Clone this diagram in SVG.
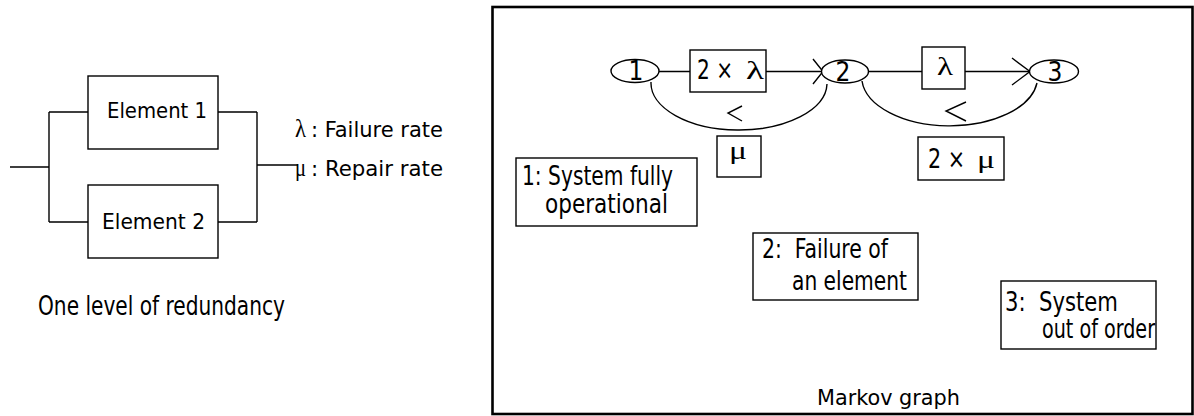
<svg xmlns="http://www.w3.org/2000/svg" width="1194" height="416" viewBox="0 0 1194 416">
  <style>
    .t { font-family: "DejaVu Sans Condensed", "DejaVu Sans", "Liberation Sans", sans-serif; font-stretch: condensed; font-size: 22px; fill: #000; }
    .d { font-size: 26px; }
    .s { font-family: "Liberation Serif", "Times New Roman", serif; font-size: 26px; fill: #000; }
    .ln { fill: none; stroke: #000; stroke-width: 1.4; }
    .bx { fill: #fff; stroke: #000; stroke-width: 1.4; }
    .frame { fill: none; stroke: #000; stroke-width: 2.6; }
  </style>

  <!-- Parallel redundancy block diagram -->
  <g id="wiring">
    <path class="ln" d="M10,167 H49 M49,112 V222 M49,112 H88 M49,222 H88"/>
    <path class="ln" d="M218,112 H257 M218,222 H257 M257,112 V222 M257,165 H298"/>
  </g>
  <g id="element1">
    <rect class="bx" x="88" y="76" width="130" height="73"/>
    <text class="t" x="107" y="118" font-size="24" textLength="100" lengthAdjust="spacingAndGlyphs">Element 1</text>
  </g>
  <g id="element2">
    <rect class="bx" x="88" y="185" width="130" height="73"/>
    <text class="t" x="102" y="229" font-size="24" textLength="103" lengthAdjust="spacingAndGlyphs">Element 2</text>
  </g>
  <g id="legend">
    <text class="s" x="295" y="137" font-size="22" textLength="11" lengthAdjust="spacingAndGlyphs">λ</text>
    <text class="t" x="311" y="137" textLength="132" lengthAdjust="spacingAndGlyphs">: Failure rate</text>
    <text class="s" x="295" y="176" font-size="22" textLength="11" lengthAdjust="spacingAndGlyphs">μ</text>
    <text class="t" x="311" y="176" textLength="132" lengthAdjust="spacingAndGlyphs">: Repair rate</text>
    <text class="t d" x="38" y="315" textLength="247" lengthAdjust="spacingAndGlyphs">One level of redundancy</text>
  </g>

  <!-- Markov graph panel -->
  <rect class="frame" x="492.5" y="7" width="700" height="407"/>

  <g id="connectors">
    <path class="ln" d="M659,71.5 H690 M766,71.5 H822"/>
    <polyline class="ln" points="813,59 823,71.5 813,84"/>
    <path class="ln" d="M868,71.5 H922 M965,71.5 H1029"/>
    <polyline class="ln" points="1012,58 1030,71.5 1012,85"/>
    <path class="ln" d="M651,82 A88,47 0 0 0 827,84"/>
    <polyline class="ln" points="742,106 728,113 742,121"/>
    <path class="ln" d="M862,81 A88,49 0 0 0 1037,83"/>
    <polyline class="ln" points="966,102 946,111 966,121"/>
  </g>

  <g id="state1">
    <ellipse class="bx" cx="635" cy="71" rx="24" ry="11.5"/>
    <text class="t d" x="636" y="80" text-anchor="middle">1</text>
  </g>
  <g id="state2">
    <ellipse class="bx" cx="845" cy="71.5" rx="23.5" ry="11.5"/>
    <text class="t d" x="843" y="81" text-anchor="middle">2</text>
  </g>
  <g id="state3">
    <ellipse class="bx" cx="1054" cy="71.5" rx="24.5" ry="11.5"/>
    <text class="t d" x="1055" y="81" text-anchor="middle">3</text>
  </g>

  <g id="rate-2lambda">
    <rect class="bx" x="690" y="50" width="76" height="42"/>
    <text class="t d" x="697" y="79" textLength="36" lengthAdjust="spacingAndGlyphs">2 ×</text>
    <text class="s" x="746" y="79" textLength="18" lengthAdjust="spacingAndGlyphs">λ</text>
  </g>
  <g id="rate-lambda">
    <rect class="bx" x="922" y="47" width="43" height="42"/>
    <text class="s" x="937" y="75" font-size="22" textLength="16" lengthAdjust="spacingAndGlyphs">λ</text>
  </g>
  <g id="rate-mu">
    <rect class="bx" x="717" y="136" width="44" height="41"/>
    <text class="s" x="729" y="159" textLength="18" lengthAdjust="spacingAndGlyphs">μ</text>
  </g>
  <g id="rate-2mu">
    <rect class="bx" x="918" y="137" width="86" height="43"/>
    <text class="t d" x="928" y="168" font-size="28" textLength="37" lengthAdjust="spacingAndGlyphs">2 ×</text>
    <text class="s" x="977" y="168" textLength="18" lengthAdjust="spacingAndGlyphs">μ</text>
  </g>

  <g id="desc1">
    <rect class="bx" x="516" y="158" width="181" height="68"/>
    <text class="t d" x="522" y="185" textLength="151" lengthAdjust="spacingAndGlyphs">1: System fully</text>
    <text class="t d" x="545" y="213" textLength="123" lengthAdjust="spacingAndGlyphs">operational</text>
  </g>
  <g id="desc2">
    <rect class="bx" x="753" y="233" width="165" height="67"/>
    <text class="t d" x="762" y="258" textLength="126" lengthAdjust="spacingAndGlyphs" xml:space="preserve">2:  Failure of</text>
    <text class="t d" x="792" y="290" textLength="115" lengthAdjust="spacingAndGlyphs">an element</text>
  </g>
  <g id="desc3">
    <rect class="bx" x="1001" y="281" width="155" height="68"/>
    <text class="t d" x="1005" y="311" textLength="113" lengthAdjust="spacingAndGlyphs" xml:space="preserve">3:  System</text>
    <text class="t d" x="1042" y="338" textLength="113" lengthAdjust="spacingAndGlyphs">out of order</text>
  </g>

  <text class="t" x="817" y="405" font-size="25.5" textLength="143" lengthAdjust="spacingAndGlyphs">Markov graph</text>
</svg>
